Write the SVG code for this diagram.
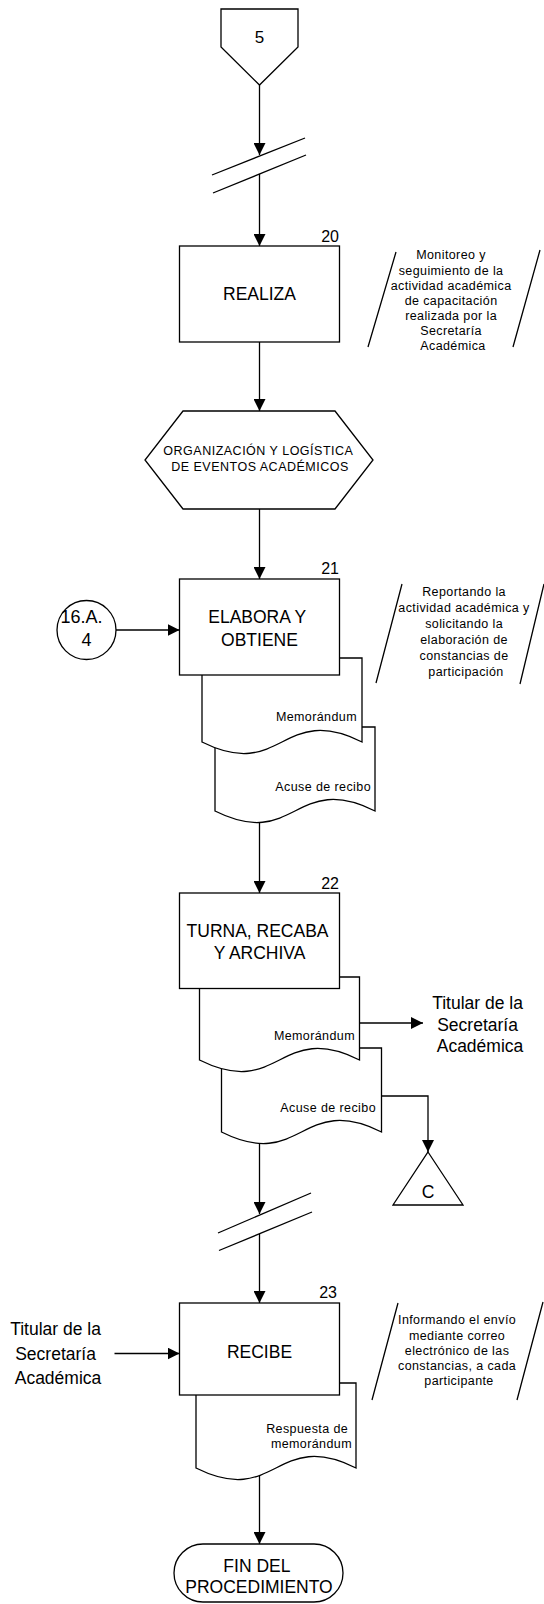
<svg xmlns="http://www.w3.org/2000/svg" width="544" height="1604" viewBox="0 0 544 1604">
<style>
.s{fill:#fff;stroke:#000;stroke-width:1.3}
.l{fill:none;stroke:#000;stroke-width:1.3}
text{font-family:"Liberation Sans",Arial,sans-serif;fill:#000}
.big{font-size:17.5px;text-anchor:middle}
.num{font-size:16px;text-anchor:end}
.sm{font-size:12.5px;letter-spacing:0.4px}
.mid{text-anchor:middle}
.end{text-anchor:end}
</style>
<defs>
<marker id="ah" markerUnits="userSpaceOnUse" markerWidth="12" markerHeight="12" refX="12" refY="6" orient="auto"><path d="M0,0 L12,6 L0,12 z" fill="#000"/></marker>
</defs>
<rect width="544" height="1604" fill="#fff"/>

<g id="connectors" class="l">
<path d="M259.5,85 V155" marker-end="url(#ah)"/>
<path d="M259.5,174 V246" marker-end="url(#ah)"/>
<path d="M259.5,342 V411" marker-end="url(#ah)"/>
<path d="M259.5,509 V579" marker-end="url(#ah)"/>
<path d="M116,630 H179.5" marker-end="url(#ah)"/>
<path d="M259.5,822 V893" marker-end="url(#ah)"/>
<path d="M359.5,1023 H423" marker-end="url(#ah)"/>
<path d="M381.5,1096 H428 V1152" marker-end="url(#ah)"/>
<path d="M259.5,1143 V1214" marker-end="url(#ah)"/>
<path d="M259.5,1234 V1303" marker-end="url(#ah)"/>
<path d="M114.5,1353.5 H179.5" marker-end="url(#ah)"/>
<path d="M259.5,1475 V1544" marker-end="url(#ah)"/>
</g>

<g id="break1" class="l">
<path d="M212,175 L305,138"/>
<path d="M213,193 L306,155"/>
</g>
<g id="break2" class="l">
<path d="M218,1233 L311,1193"/>
<path d="M219,1250.5 L312,1212"/>
</g>

<g id="offpage5">
<path class="s" d="M221,9 H298 V47 L259.5,85 L221,47 Z"/>
<text class="big" x="259.5" y="43" style="font-size:17px">5</text>
</g>

<g id="step20">
<rect class="s" x="179.5" y="246" width="160" height="96"/>
<text class="num" x="339" y="242">20</text>
<text class="big" x="259.5" y="300">REALIZA</text>
</g>

<g id="note20">
<path class="l" d="M396,252 L368,347 M540,250 L513,347"/>
<text class="sm mid" x="453">
<tspan x="453" y="259">Monitoreo y</tspan>
<tspan x="453" y="274.5">seguimiento de la</tspan>
<tspan x="453" y="290">actividad académica</tspan>
<tspan x="453" y="305">de capacitación</tspan>
<tspan x="453" y="320">realizada por la</tspan>
<tspan x="453" y="335">Secretaría</tspan>
<tspan x="453" y="350">Académica</tspan>
</text>
</g>

<g id="prep">
<path class="s" d="M183,411 H335 L373,460 L335,509 H183 L145,460 Z"/>
<text class="sm mid" style="font-size:12.5px;letter-spacing:0.5px">
<tspan x="260" y="455">ORGANIZACIÓN Y LOGÍSTICA</tspan>
<tspan x="260" y="471">DE EVENTOS ACADÉMICOS</tspan>
</text>
</g>

<g id="conn16A4">
<circle class="s" cx="86.5" cy="630" r="29.5"/>
<text class="big" style="font-size:18px">
<tspan x="84" y="623">16.A.</tspan>
<tspan x="86.5" y="646">4</tspan>
</text>
</g>

<g id="step21">
<path class="s" d="M215,727 H375 V811 C295,771 295,851 215,811 Z"/>
<text class="sm end" x="371" y="791">Acuse de recibo</text>
<path class="s" d="M202,658 H362 V742 C282,702 282,782 202,742 Z"/>
<text class="sm end" x="357" y="721">Memorándum</text>
<rect class="s" x="179.5" y="579" width="160" height="96"/>
<text class="num" x="339" y="574">21</text>
<text class="big">
<tspan x="259.5" y="623">ELABORA Y</tspan>
<tspan x="259.5" y="646">OBTIENE</tspan>
</text>
</g>

<g id="note21">
<path class="l" d="M402,584 L376,683 M544,584 L520,684"/>
<text class="sm mid">
<tspan x="466" y="596">Reportando la</tspan>
<tspan x="466" y="612">actividad académica y</tspan>
<tspan x="466" y="628">solicitando la</tspan>
<tspan x="466" y="644">elaboración de</tspan>
<tspan x="466" y="660">constancias de</tspan>
<tspan x="466" y="676">participación</tspan>
</text>
</g>

<g id="step22">
<path class="s" d="M221.5,1048 H381.5 V1132 C301.5,1092 301.5,1172 221.5,1132 Z"/>
<text class="sm end" x="376" y="1112">Acuse de recibo</text>
<path class="s" d="M199.5,977 H359.5 V1060 C279.5,1020 279.5,1100 199.5,1060 Z"/>
<text class="sm end" x="355" y="1040">Memorándum</text>
<rect class="s" x="179.5" y="893" width="160" height="95.5"/>
<text class="num" x="339" y="889">22</text>
<text class="big">
<tspan x="259.5" y="937">TURNA, RECABA</tspan>
<tspan x="259.5" y="958.5">Y ARCHIVA</tspan>
</text>
</g>

<g id="dest-titular-right">
<text class="big">
<tspan x="480" y="1009">Titular de la</tspan>
<tspan x="480" y="1030.5">Secretaría</tspan>
<tspan x="480" y="1052">Académica</tspan>
</text>
</g>

<g id="offpageC">
<path class="s" d="M428,1152 L463,1205 H393 Z"/>
<text class="big" x="428" y="1198">C</text>
</g>

<g id="src-titular-left">
<text class="big">
<tspan x="58" y="1335">Titular de la</tspan>
<tspan x="58" y="1359.5">Secretaría</tspan>
<tspan x="58" y="1384">Académica</tspan>
</text>
</g>

<g id="step23">
<path class="s" d="M196,1383 H356 V1468 C276,1428 276,1508 196,1468 Z"/>
<text class="sm end">
<tspan x="352" y="1433">Respuesta de</tspan>
<tspan x="352" y="1447.5">memorándum</tspan>
</text>
<rect class="s" x="179.5" y="1303" width="160" height="92"/>
<text class="num" x="337" y="1298">23</text>
<text class="big" x="259.5" y="1358">RECIBE</text>
</g>

<g id="note23">
<path class="l" d="M398,1303 L372,1400 M543,1302 L517,1400"/>
<text class="sm mid">
<tspan x="459" y="1324">Informando el envío</tspan>
<tspan x="459" y="1340">mediante correo</tspan>
<tspan x="459" y="1355">electrónico de las</tspan>
<tspan x="459" y="1370">constancias, a cada</tspan>
<tspan x="459" y="1385">participante</tspan>
</text>
</g>

<g id="end">
<rect class="s" x="174" y="1544" width="169" height="58" rx="29" ry="29"/>
<text class="big">
<tspan x="259" y="1571.5">FIN DEL</tspan>
<tspan x="259" y="1593">PROCEDIMIENTO</tspan>
</text>
</g>
</svg>
